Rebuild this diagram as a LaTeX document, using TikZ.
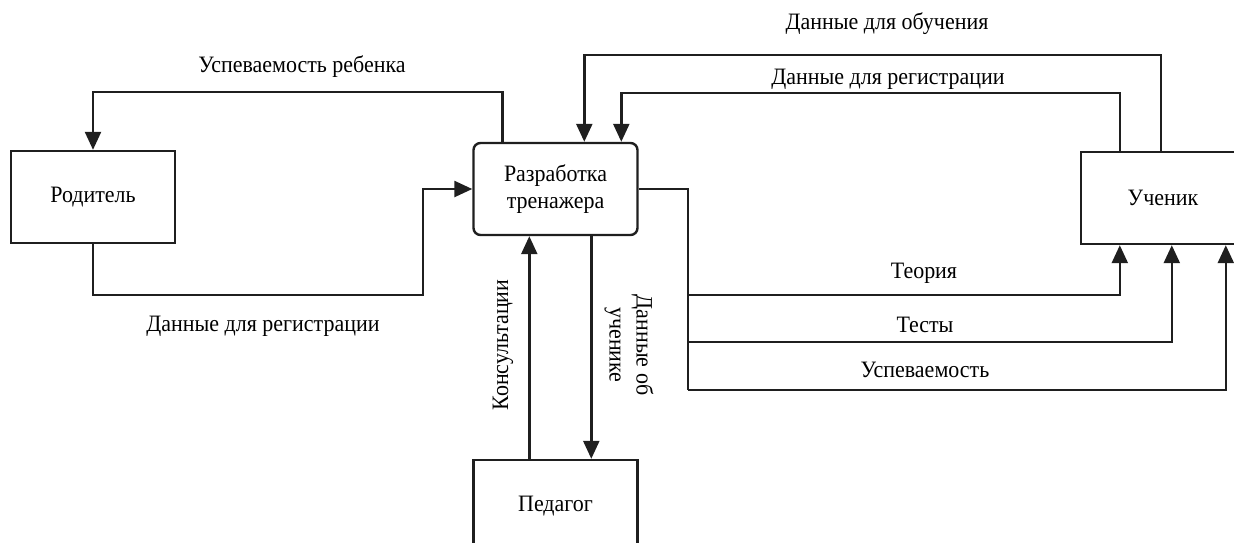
\documentclass[tikz,border=0pt]{standalone}
\usepackage{fontspec}
\setmainfont{Liberation Serif}[FakeStretch=0.935]
\usetikzlibrary{arrows.meta}
\begin{document}
\begin{tikzpicture}[x=1pt,y=-1pt,
  font=\fontsize{23.5}{27}\selectfont,
  ln/.style={line width=2.4pt,draw=black!88},
  arr/.style={ln,-{Triangle[width=16pt,length=18pt]}},
  box/.style={ln,minimum width=164pt,minimum height=92pt,inner sep=0pt,align=center},
  lbl/.style={inner sep=0pt,align=center}]
\useasboundingbox (0,0) rectangle (1234,542);
\clip (0,0) rectangle (1234,542);
\node[box] (par) at (93,197) {Родитель};
\node[box,rounded corners=7pt] (dev) at (555.5,189) {Разработка\\тренажера};
\node[box] (stu) at (1163,198) {Ученик};
\node[box] (ped) at (555.5,506) {Педагог};
% anchor points
\coordinate (devA) at ([xshift=112pt]dev.north west);
\coordinate (devB) at ([xshift=149pt]dev.north west);
\coordinate (stuA) at ([xshift=81pt]stu.north west);
\coordinate (stuB) at ([xshift=40pt]stu.north west);
% bend coordinates
\coordinate (ytop1) at (0,92);
\coordinate (ybot1) at (0,295);
\coordinate (xin1) at (423,0);
\coordinate (ytop2) at (0,55);
\coordinate (ytop3) at (0,93);
\coordinate (xr) at (688,0);
\coordinate (yT) at (0,295);
\coordinate (yS) at (0,342);
\coordinate (yU) at (0,390);
% parent links
\draw[arr] ([xshift=30pt]dev.north west) |- (ytop1 -| par.north) -- (par.north);
\draw[arr] (par.south) |- (ybot1 -| xin1) |- (dev.west);
% student to dev
\draw[arr] (stuA) |- (ytop2 -| devA) -- (devA);
\draw[arr] (stuB) |- (ytop3 -| devB) -- (devB);
% dev to student
\draw[ln] (dev.east) -| (yU -| xr);
\draw[arr] (yT -| xr) -| ([xshift=40pt]stu.south west);
\draw[arr] (yS -| xr) -| ([xshift=92pt]stu.south west);
\draw[arr] (yU -| xr) -| ([xshift=146pt]stu.south west);
% teacher
\draw[arr] ([xshift=57pt]ped.north west) -- ([xshift=57pt]dev.south west);
\draw[arr] ([xshift=119pt]dev.south west) -- ([xshift=119pt]ped.north west);
% labels
\node[lbl] (l1) at (302,67) {Успеваемость ребенка};
\node[lbl] (l2) at (263,326) {Данные для регистрации};
\node[lbl] (l3) at (887,24) {Данные для обучения};
\node[lbl] (l4) at (888,79) {Данные для регистрации};
\node[lbl] (l5) at (924,273) {Теория};
\node[lbl] (l6) at (925,325) {Тесты};
\node[lbl] (l7) at (925,370) {Успеваемость};
\node[lbl,rotate=90] (l8) at (503,345) {Консультации};
\node[lbl,rotate=-90] (l9) at (629,345) {Данные об\\ученике};
\end{tikzpicture}
\end{document}
